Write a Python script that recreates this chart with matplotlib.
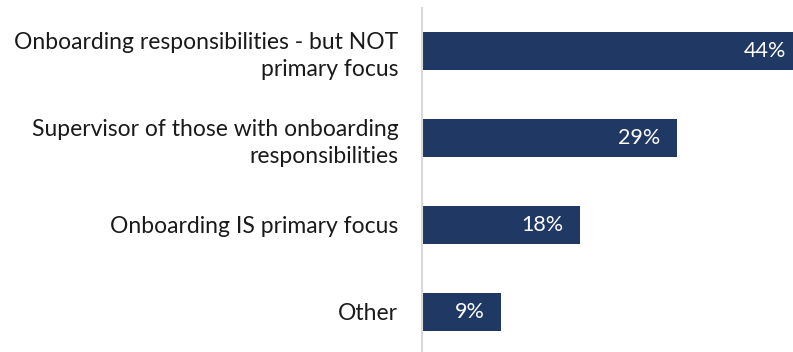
import matplotlib.pyplot as plt

categories = [
    "Onboarding responsibilities - but NOT\nprimary focus",
    "Supervisor of those with onboarding\nresponsibilities",
    "Onboarding IS primary focus",
    "Other",
]
values = [44, 29, 18, 9]

bar_color = "#1f3864"
x_max = 42.2

plt.rcParams['font.family'] = ['Lato', 'DejaVu Sans']

fig = plt.figure(figsize=(7.93, 3.52), dpi=100)
ax = fig.add_axes([0.532, -0.0085, 0.468, 0.986])

pos = list(range(len(values)))
ax.barh(pos, values, height=0.44, color=bar_color)
ax.set_xlim(0, x_max)
ax.set_ylim(3.5, -0.5)

ax.set_yticks(pos)
ax.set_yticklabels(categories, fontsize=16.5, color="#1a1a1a", linespacing=1.35)
ax.tick_params(axis='y', length=0, pad=17)
ax.set_xticks([])

for s in ["top", "right", "bottom"]:
    ax.spines[s].set_visible(False)
ax.spines["left"].set_color("#d9d9d9")
ax.spines["left"].set_linewidth(1.5)

# value labels sit inside the bar end; clipped bars get pulled back in
for p, v in zip(pos, values):
    if v > x_max:
        xv, off = x_max, -5
    else:
        xv, off = v, -12
    ax.annotate(f"{v}%", (xv, p), xytext=(off, 0), textcoords="offset points",
                ha="right", va="center", color="white", fontsize=15.5)

fig.savefig("out.png", dpi=100)
